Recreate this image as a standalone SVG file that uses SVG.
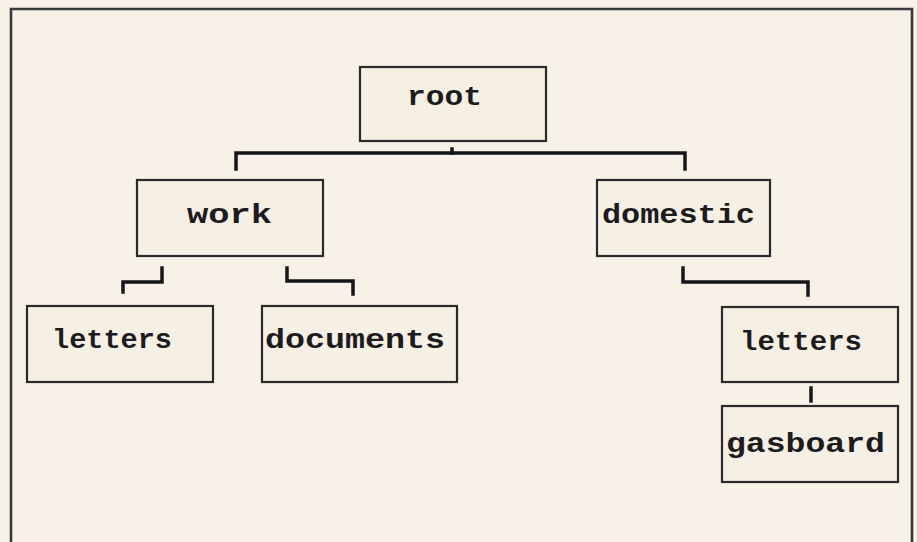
<svg xmlns="http://www.w3.org/2000/svg" width="917" height="542" viewBox="0 0 917 542">
<style>
.box{fill:#f6efe3;stroke:#2a2a2e;stroke-width:2.2}
.lbl{font-family:"Liberation Mono","DejaVu Sans Mono",monospace;font-weight:bold;font-size:27px;fill:#1c1c20}
.con{fill:none;stroke:#16161a;stroke-width:3.5;stroke-linejoin:miter;stroke-linecap:square}
</style>
<rect x="0" y="0" width="917" height="542" fill="#f7f1e7"/>
<path d="M11 542 V9 H912 V542" fill="none" stroke="#3a3a3e" stroke-width="2.6"/>
<g id="connectors">
<path class="con" d="M236 169 V153 H685 V169"/>
<path class="con" d="M452 149 V153"/>
<path class="con" d="M162 268 V282 H123 V292"/>
<path class="con" d="M287 268 V281 H353 V294"/>
<path class="con" d="M683 268 V282 H808 V295"/>
<path class="con" d="M811 388 V401"/>
</g>
<g id="root"><rect class="box" x="360" y="67" width="186" height="74"/><text class="lbl" x="407" y="105" textLength="75" lengthAdjust="spacingAndGlyphs">root</text></g>
<g id="work"><rect class="box" x="137" y="180" width="186" height="76"/><text class="lbl" x="187" y="223" textLength="85" lengthAdjust="spacingAndGlyphs">work</text></g>
<g id="domestic"><rect class="box" x="597" y="180" width="173" height="76"/><text class="lbl" x="602" y="223" textLength="153" lengthAdjust="spacingAndGlyphs">domestic</text></g>
<g id="letters-work"><rect class="box" x="27" y="306" width="186" height="76"/><text class="lbl" x="52" y="348" textLength="120" lengthAdjust="spacingAndGlyphs">letters</text></g>
<g id="documents"><rect class="box" x="262" y="306" width="195" height="76"/><text class="lbl" x="265" y="348" textLength="180" lengthAdjust="spacingAndGlyphs">documents</text></g>
<g id="letters-domestic"><rect class="box" x="722" y="307" width="176" height="75"/><text class="lbl" x="740" y="350" textLength="122" lengthAdjust="spacingAndGlyphs">letters</text></g>
<g id="gasboard"><rect class="box" x="722" y="406" width="176" height="76"/><text class="lbl" x="726" y="452" textLength="159" lengthAdjust="spacingAndGlyphs">gasboard</text></g>
</svg>
